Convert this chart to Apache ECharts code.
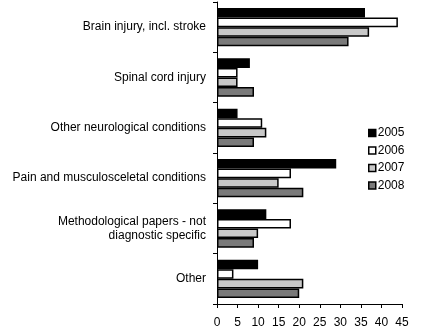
<!DOCTYPE html>
<html><head><meta charset="utf-8">
<script src="https://cdn.jsdelivr.net/npm/echarts@6/dist/echarts.min.js"></script>
<style>html,body{margin:0;padding:0;background:#fff}#c{width:438px;height:333px}</style>
</head><body><div id="c"></div>
<script>
const categories = ["Brain injury, incl. stroke", "Spinal cord injury", "Other neurological conditions", "Pain and musculosceletal conditions", "Methodological papers - not\ndiagnostic specific", "Other"];
const years = ["2005", "2006", "2007", "2008"];
const v2005 = [36, 8, 5, 29, 12, 10];
const v2006 = [44, 5, 11, 18, 18, 4];
const v2007 = [37, 5, 12, 15, 10, 21];
const v2008 = [32, 9, 9, 21, 9, 20];
const xTicks = [0, 5, 10, 15, 20, 25, 30, 35, 40, 45];

const values = [v2005, v2006, v2007, v2008];
const fills = ["#000000", "#ffffff", "#c8c8c8", "#7a7a7a"];
const font = "Liberation Sans, Arial, sans-serif";
const chart = echarts.init(document.getElementById('c'), null, {renderer: 'canvas'});
chart.setOption({
  animation: false,
  grid: {left: 217, right: 36, top: 2, bottom: 29, containLabel: false},
  legend: {
    orient: 'vertical', left: 363, top: 122, itemWidth: 7, itemHeight: 7, itemGap: 5.5,
    textStyle: {fontFamily: font, fontSize: 12, color: '#000', padding: [0,0,0,-3]},
    data: years.map((y, i) => ({name: y, icon: 'rect', itemStyle: {color: fills[i], borderColor: '#000', borderWidth: 1.5}}))
  },
  xAxis: {
    type: 'value', min: xTicks[0], max: xTicks[xTicks.length-1], interval: 5,
    axisLine: {show: true, lineStyle: {color: '#000', width: 1}},
    axisTick: {show: true, length: 4, lineStyle: {color: '#000'}},
    axisLabel: {fontFamily: font, fontSize: 12, color: '#000', margin: 13},
    splitLine: {show: false}
  },
  yAxis: {
    type: 'category', data: categories, inverse: true,
    axisLine: {show: true, lineStyle: {color: '#000', width: 1}},
    axisTick: {show: true, length: 4, lineStyle: {color: '#000'}},
    axisLabel: {fontFamily: font, fontSize: 12, color: '#000', margin: 11, lineHeight: 14}
  },
  series: years.map((y, i) => ({
    name: y, type: 'bar', data: values[i],
    barGap: '0%', barCategoryGap: '24%',
    itemStyle: {color: fills[i], borderColor: '#000', borderWidth: 1.5}
  }))
});
</script></body></html>
